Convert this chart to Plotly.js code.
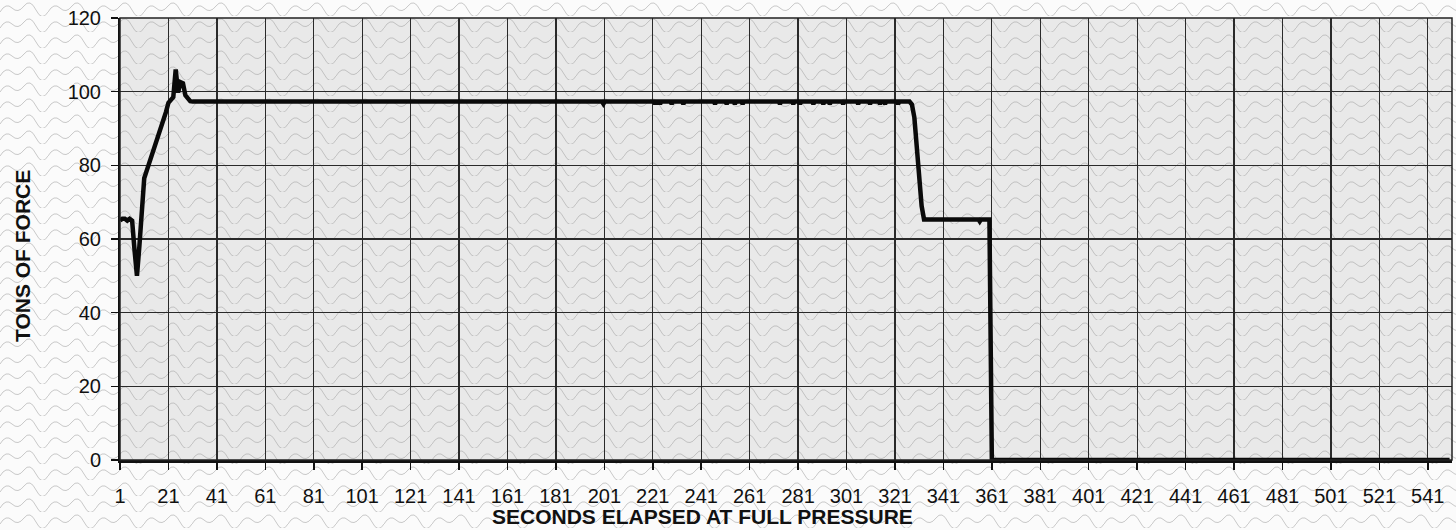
<!DOCTYPE html>
<html>
<head>
<meta charset="utf-8">
<script src="https://cdn.plot.ly/plotly-3.0.1.min.js"></script>
<style>
  html, body { margin: 0; padding: 0; }
  body {
    width: 1456px; height: 530px; overflow: hidden;
    background-color: #fbfbfb;
    background-image: url("data:image/svg+xml;utf8,<svg xmlns='http://www.w3.org/2000/svg' width='48' height='16'><path d='M0 12 Q6 2 12 8 T24 6 T36 10 T48 12' fill='none' stroke='%23c8c8c8' stroke-width='1'/></svg>");
  }
  #chart { width: 1456px; height: 530px; }
</style>
</head>
<body>
<div id="chart"></div>
<script>
// Seconds (x) and tons of force (y)
const seconds = [1, 2, 3, 4, 5, 6, 7, 8, 9, 10, 11, 12, 13, 14, 15, 16, 17, 18, 19, 20, 21, 22, 23, 24, 25, 26, 27, 28, 29, 30, 31,
  200, 200.6, 201.2, 221.5, 222, 222.5, 223.5, 224, 224.5, 228.3, 228.8, 229.3, 233.1, 233.6, 234.1,
  246.2, 246.7, 247.2, 251, 251.5, 252, 254.4, 254.9, 255.4, 257.6, 258.1, 258.6,
  273, 273.5, 274, 278.5, 279, 279.5, 281.3, 281.8, 282.3, 286.8, 287.3, 287.8, 290.9, 291.4, 291.9,
  293.6, 294.1, 294.6, 299.1, 299.6, 300.1, 305.3, 305.8, 306.3, 310.2, 310.7, 311.2,
  314.3, 314.8, 315.3, 316.4, 316.9, 317.4, 321.8, 322.3, 322.8,
  327, 328, 329, 330, 331, 332, 333, 355.5, 356, 356.5, 360, 360.5, 361, 550];
const tons = [65, 65.5, 65.5, 65, 65.5, 65, 57, 50, 58, 66, 76.5, 78.5, 80.5, 82, 84, 86, 88, 90, 92, 94.5, 97, 98, 98.5, 106, 99.8, 102.6, 102.3, 99, 98, 97.4, 97.3,
  97.3, 96.7, 97.3, 97.3, 96.7, 97.3, 97.3, 96.7, 97.3, 97.3, 96.7, 97.3, 97.3, 96.7, 97.3,
  97.3, 96.7, 97.3, 97.3, 96.7, 97.3, 97.3, 96.7, 97.3, 97.3, 96.7, 97.3,
  97.3, 96.7, 97.3, 97.3, 96.7, 97.3, 97.3, 96.7, 97.3, 97.3, 96.7, 97.3, 97.3, 96.7, 97.3,
  97.3, 96.7, 97.3, 97.3, 96.7, 97.3, 97.3, 96.7, 97.3, 97.3, 96.7, 97.3,
  97.3, 96.7, 97.3, 97.3, 96.7, 97.3, 97.3, 96.7, 97.3,
  97.3, 96.5, 93, 85, 77, 69, 65.3, 65.3, 64.8, 65.3, 65.3, 30, 0, 0];
const xTicks = [1, 21, 41, 61, 81, 101, 121, 141, 161, 181, 201, 221, 241, 261, 281, 301, 321, 341, 361, 381, 401, 421, 441, 461, 481, 501, 521, 541];
const yTicks = [0, 20, 40, 60, 80, 100, 120];
const xTitle = "SECONDS ELAPSED AT FULL PRESSURE";
const yTitle = "TONS OF FORCE";

const font = "Liberation Sans, Arial, sans-serif";

const trace = {
  x: seconds, y: tons, type: "scatter", mode: "lines",
  line: { color: "#0a0a0a", width: 4.5, shape: "linear" },
  hoverinfo: "x+y", showlegend: false
};

const layout = {
  width: 1456, height: 530,
  margin: { l: 120, r: 4, t: 18, b: 70 },
  paper_bgcolor: "rgba(0,0,0,0)",
  plot_bgcolor: "rgba(170,170,170,0.22)",
  font: { family: font, color: "#111", size: 20 },
  xaxis: {
    range: [1, 551], tickmode: "array", tickvals: xTicks, ticktext: xTicks.map(String),
    showgrid: true, gridcolor: "#2a2a2a", gridwidth: 1.3,
    zeroline: false, showline: true, linecolor: "#111", linewidth: 3,
    ticks: "outside", ticklen: 7, tickwidth: 1.5, tickcolor: "#111",
    ticklabelstandoff: 9,
    tickfont: { family: font, size: 20, color: "#111" }
  },
  yaxis: {
    range: [0, 120], tickmode: "array", tickvals: yTicks, ticktext: yTicks.map(String),
    showgrid: true, gridcolor: "#2a2a2a", gridwidth: 1.3,
    zeroline: false, showline: true, linecolor: "#111", linewidth: 2,
    ticks: "outside", ticklen: 7, tickwidth: 1.5, tickcolor: "#111",
    ticklabelstandoff: 6,
    tickfont: { family: font, size: 20, color: "#111" }
  },
  shapes: [
    { type: "rect", xref: "paper", yref: "paper", x0: 0, x1: 1, y0: 0, y1: 1,
      line: { color: "#222", width: 1.5 }, fillcolor: "rgba(0,0,0,0)", layer: "above" }
  ],
  annotations: [
    { text: "<b>" + xTitle + "</b>", xref: "paper", yref: "paper",
      x: (702 - 120) / 1332, y: (460 - 516) / 442, xanchor: "center", yanchor: "middle",
      showarrow: false, font: { family: font, size: 21, color: "#111" } },
    { text: "<b>" + yTitle + "</b>", xref: "paper", yref: "paper",
      x: (22 - 120) / 1332, y: (460 - 256) / 442, xanchor: "center", yanchor: "middle",
      textangle: -90, showarrow: false, font: { family: font, size: 21, color: "#111" } }
  ]
};

Plotly.newPlot("chart", [trace], layout, { staticPlot: true, displayModeBar: false });
</script>
</body>
</html>
